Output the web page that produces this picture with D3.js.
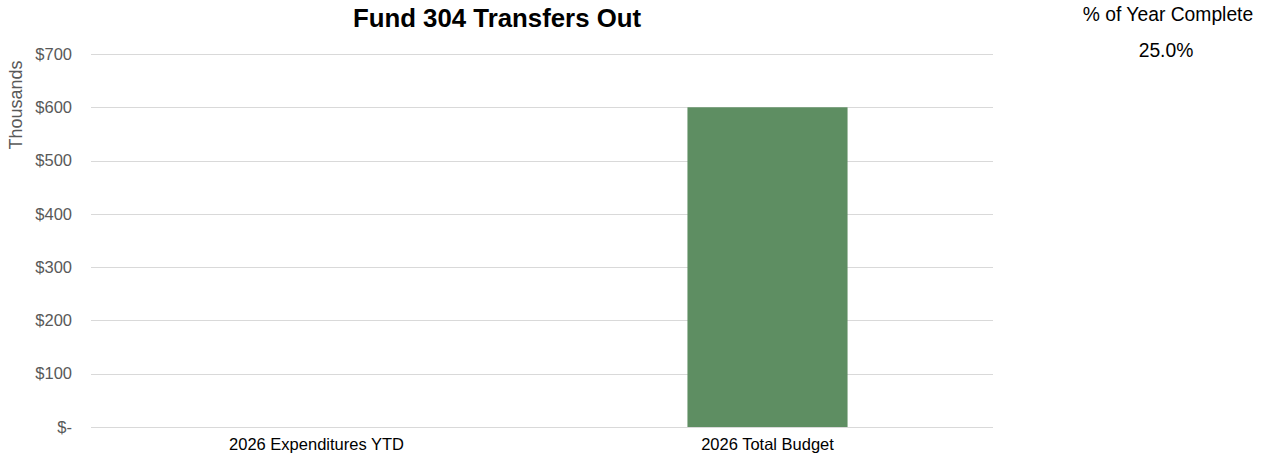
<!DOCTYPE html>
<html><head><meta charset="utf-8">
<script src="https://cdn.jsdelivr.net/npm/d3@7"></script>
<style>body{margin:0;background:#fff;} svg{display:block;font-family:"Liberation Sans",Arial,sans-serif;}</style>
</head><body>
<svg id="c" width="1279" height="460"></svg>
<script>
const categories = ["2026 Expenditures YTD", "2026 Total Budget"];
const values = [0, 600]; // thousands
const yTicks = [0, 100, 200, 300, 400, 500, 600, 700];
const title = "Fund 304 Transfers Out";
const sideLabel = "% of Year Complete";
const sideValue = "25.0%";

const svg = d3.select("#c");
const m = {l: 91, r: 993, t: 54, b: 427};
const x = d3.scaleBand().domain(categories).range([m.l, m.r]).paddingInner(0.645).paddingOuter(0.3225);
const y = d3.scaleLinear().domain([0, 700]).range([m.b, m.t]);

svg.append("g").selectAll("line").data(yTicks).join("line")
  .attr("x1", m.l).attr("x2", m.r)
  .attr("y1", d => Math.round(y(d)) + 0.5).attr("y2", d => Math.round(y(d)) + 0.5)
  .attr("stroke", "#d9d9d9").attr("stroke-width", 1);

svg.append("g").selectAll("rect").data(values).join("rect")
  .attr("x", (d, i) => x(categories[i])).attr("width", x.bandwidth())
  .attr("y", d => y(d)).attr("height", d => y(0) - y(d))
  .attr("fill", "#5e8e62");

const yAxis = d3.axisLeft(y).tickValues(yTicks).tickSize(0).tickPadding(0)
  .tickFormat(d => d === 0 ? "$-" : "$" + d);
const ya = svg.append("g").attr("transform", `translate(72,0)`).call(yAxis);
ya.select(".domain").remove();
ya.selectAll("text").attr("fill", "#595959").style("font-size", "16.5px").attr("font-family", "Liberation Sans, Arial, sans-serif");

const xAxis = d3.axisBottom(x).tickSize(0).tickPadding(0);
const xa = svg.append("g").attr("transform", `translate(0,438)`).call(xAxis);
xa.select(".domain").remove();
xa.selectAll("text").attr("fill", "#000").style("font-size", "16.5px").attr("font-family", "Liberation Sans, Arial, sans-serif");

svg.append("text").attr("x", 497).attr("y", 27).attr("text-anchor", "middle")
  .style("font-size", "25.8px").style("font-weight", "bold").attr("fill", "#000").text(title);

svg.append("text").attr("transform", "translate(22,105) rotate(-90)").attr("text-anchor", "middle")
  .style("font-size", "18px").attr("fill", "#595959").text("Thousands");

svg.append("text").attr("x", 1168).attr("y", 21).attr("text-anchor", "middle")
  .style("font-size", "19.3px").attr("fill", "#000").text(sideLabel);
svg.append("text").attr("x", 1166).attr("y", 57).attr("text-anchor", "middle")
  .style("font-size", "19.3px").attr("fill", "#000").text(sideValue);
</script>
</body></html>
